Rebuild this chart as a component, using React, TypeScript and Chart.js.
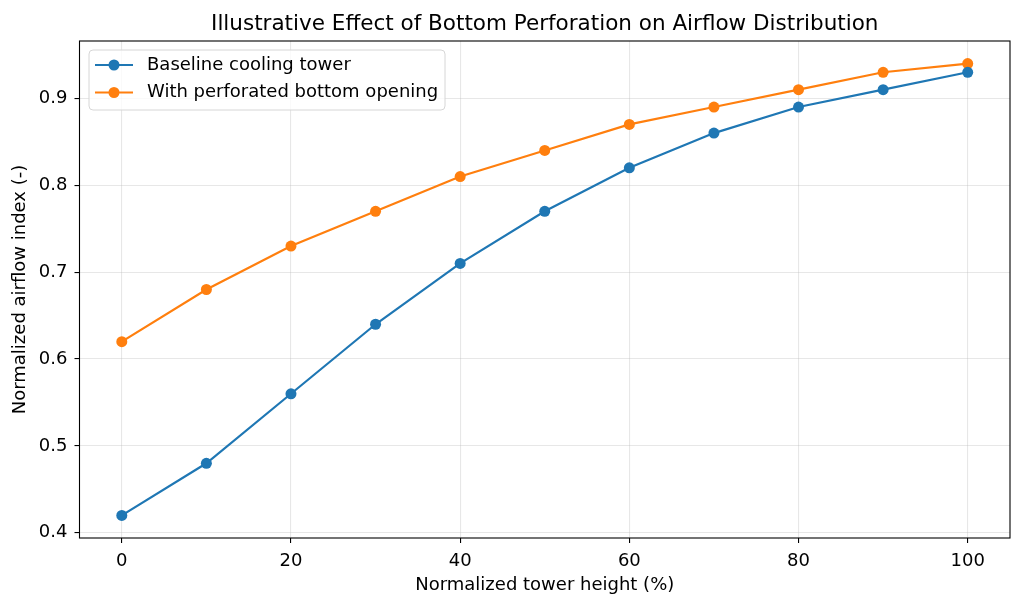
import { useRef, useEffect } from "react";
import { Chart, registerables, type Plugin } from "chart.js";

Chart.register(...registerables);

const FONT = '"DejaVu Sans", sans-serif';
const SIZE = 18;

const heights = [0, 10, 20, 30, 40, 50, 60, 70, 80, 90, 100];
const baseline = [0.42, 0.48, 0.56, 0.64, 0.71, 0.77, 0.82, 0.86, 0.89, 0.91, 0.93];
const perforated = [0.62, 0.68, 0.73, 0.77, 0.81, 0.84, 0.87, 0.89, 0.91, 0.93, 0.94];
const xTicks = [0, 20, 40, 60, 80, 100];
const yTicks = [0.4, 0.5, 0.6, 0.7, 0.8, 0.9];

const BLUE = "#1f77b4";
const ORANGE = "#ff7f0e";

// title, frame and legend drawn the matplotlib way
const decorations: Plugin = {
  id: "decorations",
  afterDraw(chart) {
    const { ctx, chartArea: a } = chart;
    ctx.save();

    ctx.strokeStyle = "#000";
    ctx.lineWidth = 1.1;
    ctx.strokeRect(a.left, a.top, a.right - a.left, a.bottom - a.top);

    ctx.fillStyle = "#000";
    ctx.font = `21.5px ${FONT}`;
    ctx.textAlign = "center";
    ctx.textBaseline = "alphabetic";
    ctx.fillText(
      "Illustrative Effect of Bottom Perforation on Airflow Distribution",
      (a.left + a.right) / 2,
      30
    );

    // legend box
    const bx = 89, by = 50, bw = 356, bh = 60, r = 4;
    ctx.beginPath();
    ctx.roundRect(bx, by, bw, bh, r);
    ctx.fillStyle = "rgba(255,255,255,0.8)";
    ctx.fill();
    ctx.strokeStyle = "#d6d6d6";
    ctx.lineWidth = 1;
    ctx.stroke();

    ctx.font = `${SIZE}px ${FONT}`;
    ctx.textAlign = "left";
    ctx.textBaseline = "middle";
    chart.data.datasets.forEach((ds, i) => {
      const y = 65 + i * 27.5;
      const c = ds.borderColor as string;
      ctx.strokeStyle = c;
      ctx.lineWidth = 2.2;
      ctx.beginPath();
      ctx.moveTo(95, y);
      ctx.lineTo(133, y);
      ctx.stroke();
      ctx.fillStyle = c;
      ctx.beginPath();
      ctx.arc(114, y, 5.5, 0, Math.PI * 2);
      ctx.fill();
      ctx.fillStyle = "#000";
      ctx.fillText(ds.label as string, 147, y);
    });

    ctx.restore();
  },
};

export default function App() {
  const ref = useRef<HTMLCanvasElement>(null);

  useEffect(() => {
    document.body.style.margin = "0";
    if (!ref.current) return;

    const series = (label: string, values: number[], color: string) => ({
      label,
      data: heights.map((x, i) => ({ x, y: values[i] })),
      borderColor: color,
      backgroundColor: color,
      borderWidth: 2.2,
      pointRadius: 5.5,
      pointHoverRadius: 5.5,
      pointBorderWidth: 0,
      tension: 0,
    });

    const grid = { color: "rgba(176,176,176,0.3)", lineWidth: 1.1, tickColor: "#000", tickLength: 5, tickWidth: 1.1 };

    const chart = new Chart(ref.current, {
      type: "line",
      data: {
        datasets: [
          series("Baseline cooling tower", baseline, BLUE),
          series("With perforated bottom opening", perforated, ORANGE),
        ],
      },
      plugins: [decorations],
      options: {
        responsive: false,
        animation: false,
        layout: { padding: { top: 41, right: 14, left: 0, bottom: 0 } },
        plugins: { legend: { display: false }, tooltip: { enabled: false } },
        scales: {
          x: {
            type: "linear",
            min: -5,
            max: 105,
            afterBuildTicks: (s) => { s.ticks = xTicks.map((value) => ({ value })); },
            afterFit: (s) => { s.height = 70; },
            border: { display: false },
            grid,
            ticks: { color: "#000", font: { family: FONT, size: SIZE }, padding: 7.5, maxRotation: 0 },
            title: {
              display: true,
              text: "Normalized tower height (%)",
              color: "#000",
              font: { family: FONT, size: SIZE },
              padding: { top: 0, bottom: 11.5 },
            },
          },
          y: {
            type: "linear",
            min: 0.394,
            max: 0.966,
            afterBuildTicks: (s) => { s.ticks = yTicks.map((value) => ({ value })); },
            afterFit: (s) => { s.width = 79.5; },
            border: { display: false },
            grid,
            ticks: { color: "#000", font: { family: FONT, size: SIZE }, padding: 7, callback: (v) => Number(v).toFixed(1) },
            title: {
              display: true,
              text: "Normalized airflow index (-)",
              color: "#000",
              font: { family: FONT, size: SIZE },
              padding: { top: 10, bottom: 0 },
            },
          },
        },
      },
    });

    return () => { chart.destroy(); };
  }, []);

  return <canvas ref={ref} width={1024} height={608} style={{ display: "block" }} />;
}
